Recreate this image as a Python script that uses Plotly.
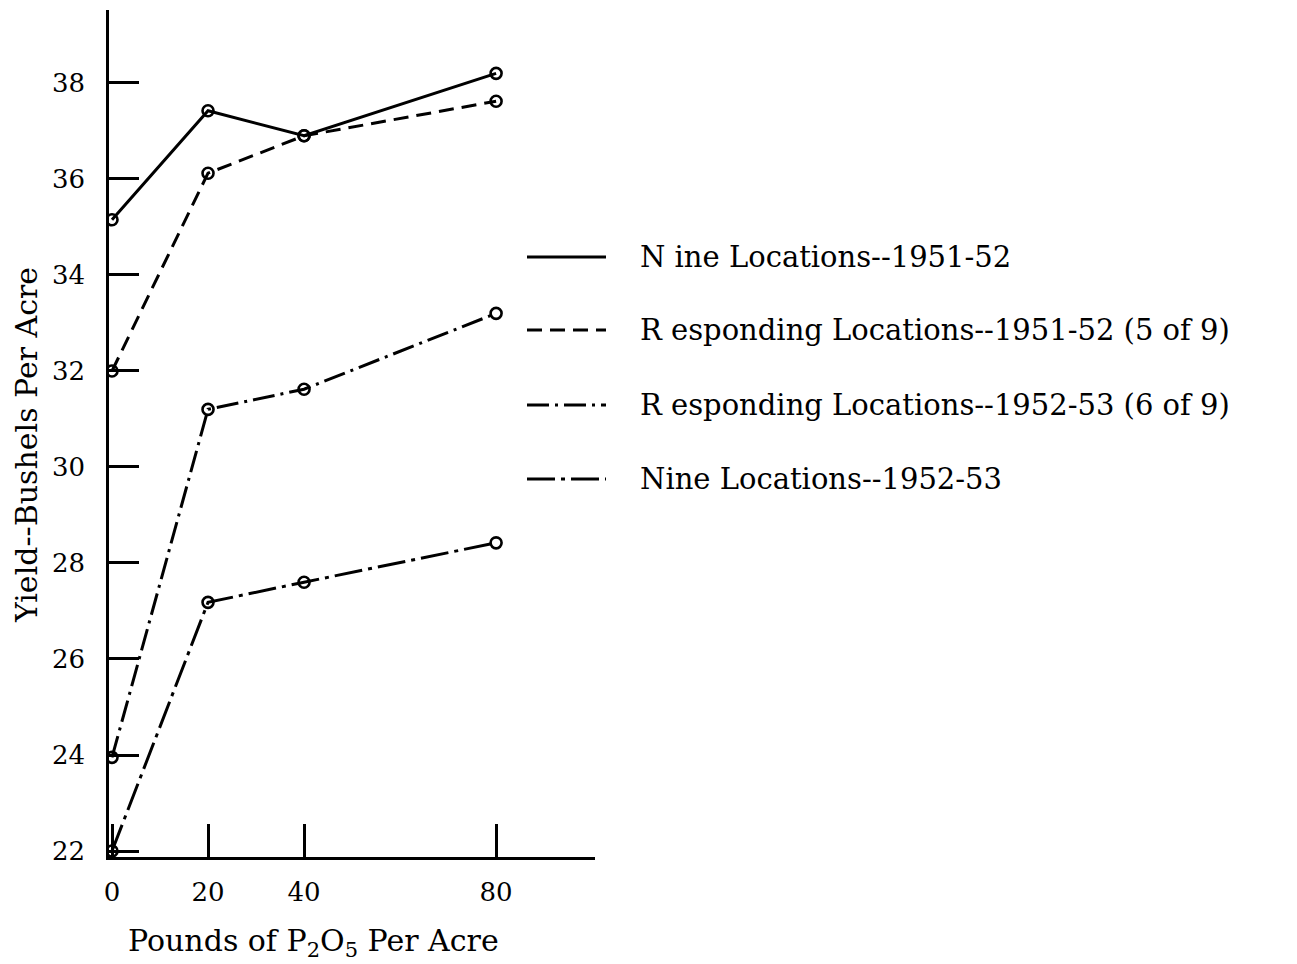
import plotly.graph_objects as go

x_vals = [0, 20, 40, 80]
nine_5152 = [35.15, 37.42, 36.9, 38.2]
resp_5152 = [32.0, 36.12, 36.9, 37.62]
resp_5253 = [23.95, 31.2, 31.62, 33.2]
nine_5253 = [22.0, 27.18, 27.6, 28.42]

series_names = [
    "N ine Locations--1951-52",
    "R esponding Locations--1951-52 (5 of 9)",
    "R esponding Locations--1952-53 (6 of 9)",
    "Nine Locations--1952-53",
]
series_vals = [nine_5152, resp_5152, resp_5253, nine_5253]
dashes = ["solid", "15px,8px", "22px,6px,3px,6px", "28px,6px,4px,6px"]

y_ticks = [22, 24, 26, 28, 30, 32, 34, 36, 38]
x_ticks = [0, 20, 40, 80]

FONT = "DejaVu Serif"
W, H = 1289, 956
PAGE_OFF = 8  # default body margin of the html page

# page-pixel geometry of the plot area
PL, PR, PT, PB = 109, 595, 10, 857
L = PL - PAGE_OFF
T = PT - PAGE_OFF
R = W - (PR - PAGE_OFF)
B = H - (PB - PAGE_OFF)

def px(page_x):
    return (page_x - PL) / (PR - PL)

def py(page_y):
    return (PB - page_y) / (PB - PT)

fig = go.Figure()
for name, vals, d in zip(series_names, series_vals, dashes):
    fig.add_trace(go.Scatter(
        x=x_vals, y=vals, name=name, mode="lines+markers",
        line=dict(color="black", width=3, dash=d),
        marker=dict(symbol="circle-open", size=11, color="black",
                    line=dict(width=2.6, color="black")),
        showlegend=False,
    ))

legend_y = [257, 330, 405, 479]
shapes = []
annotations = []
for name, d, ly in zip(series_names, dashes, legend_y):
    shapes.append(dict(type="line", xref="paper", yref="paper",
                       x0=px(527), x1=px(606), y0=py(ly), y1=py(ly),
                       line=dict(color="black", width=3, dash=d)))
    annotations.append(dict(xref="paper", yref="paper", x=px(638), y=py(ly),
                            text=name, showarrow=False, xanchor="left", yanchor="middle",
                            font=dict(family=FONT, size=29, color="black")))

annotations.append(dict(xref="paper", yref="paper", x=px(313), y=py(942),
                        text="Pounds of P<sub>2</sub>O<sub>5</sub> Per Acre",
                        showarrow=False, xanchor="center", yanchor="middle",
                        font=dict(family=FONT, size=30, color="black")))
annotations.append(dict(xref="paper", yref="paper", x=px(27), y=py(445),
                        text="Yield--Bushels Per Acre", textangle=-90,
                        showarrow=False, xanchor="center", yanchor="middle",
                        font=dict(family=FONT, size=30, color="black")))

fig.update_layout(
    width=W, height=H,
    margin=dict(l=L, r=R, t=T, b=B, autoexpand=False),
    paper_bgcolor="white", plot_bgcolor="white",
    font=dict(family=FONT, size=25, color="black"),
    shapes=shapes, annotations=annotations,
    xaxis=dict(range=[-0.625, 100.6], tickvals=x_ticks, ticks="inside", ticklen=33, tickwidth=2.6,
               tickcolor="black", showline=True, linecolor="black", linewidth=2.6,
               showgrid=False, zeroline=False, ticklabelstandoff=10,
               tickfont=dict(family=FONT, size=26)),
    yaxis=dict(range=[21.875, 39.52], tickvals=y_ticks, ticks="inside", ticklen=30, tickwidth=2.6,
               tickcolor="black", showline=True, linecolor="black", linewidth=2.6,
               showgrid=False, zeroline=False, ticklabelstandoff=16,
               tickfont=dict(family=FONT, size=26)),
)

fig.write_html("out.html")
